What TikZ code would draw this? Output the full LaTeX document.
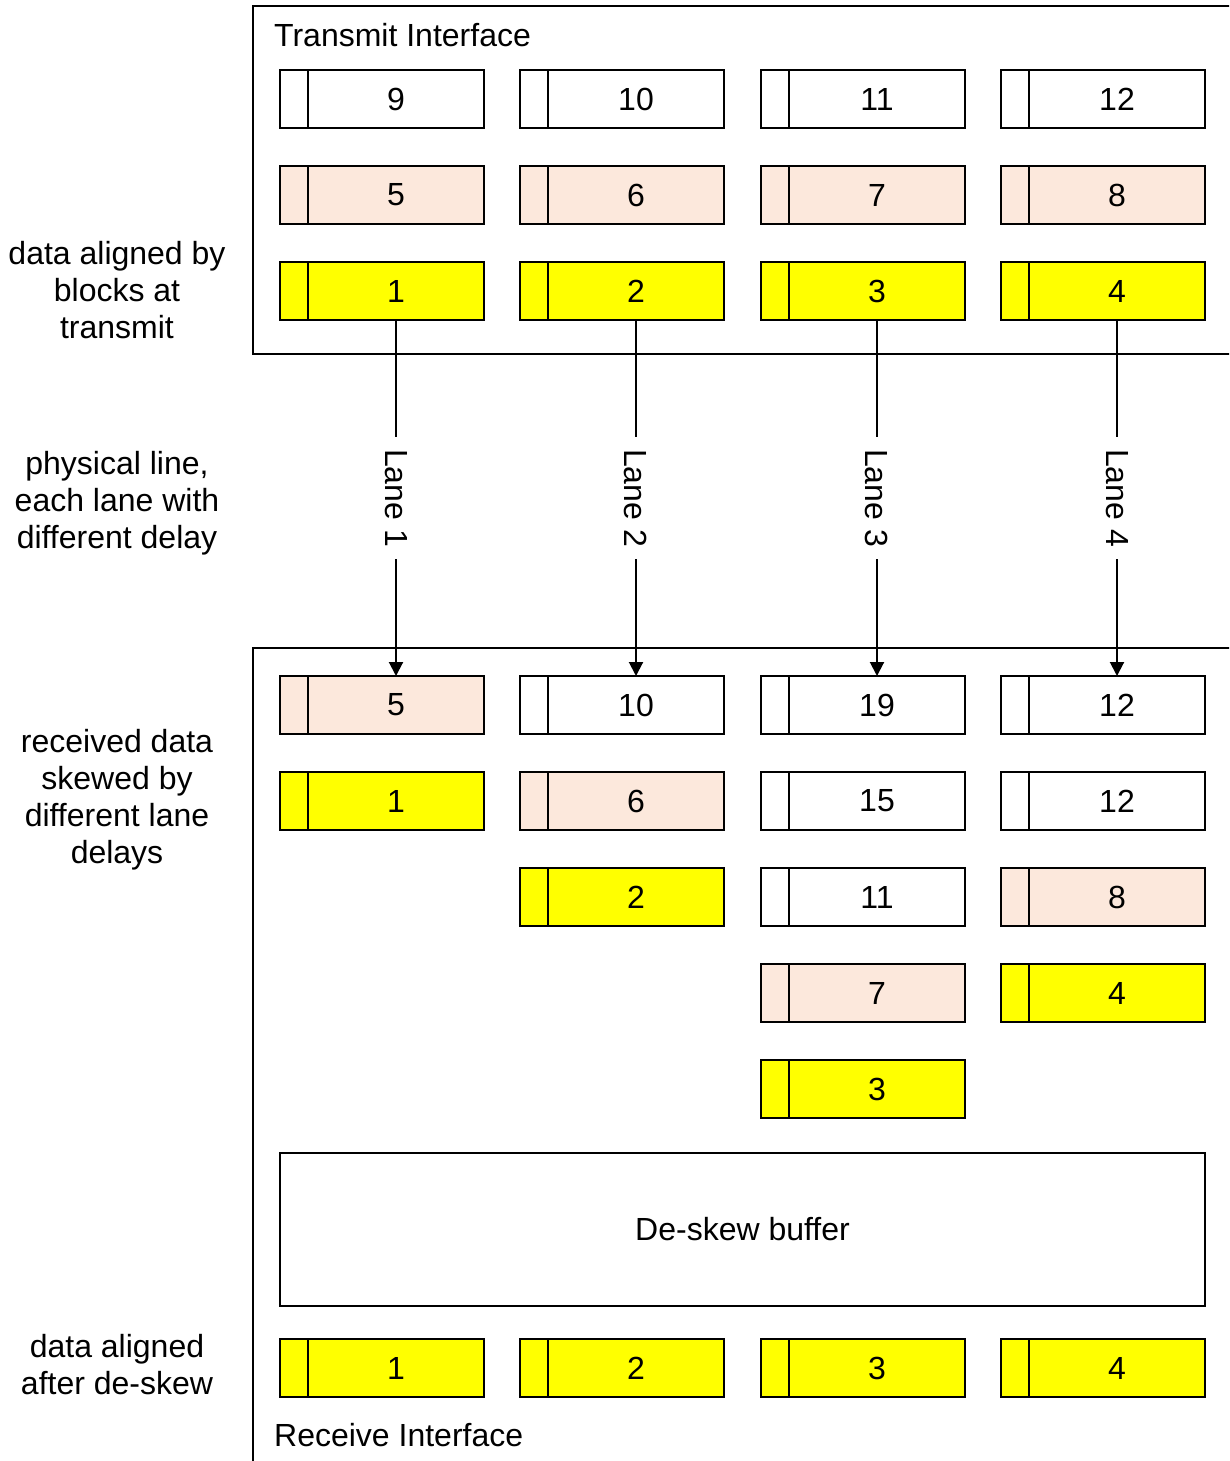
\documentclass[tikz,border=0pt]{standalone}
\usepackage{fontspec}
\setmainfont{Liberation Sans}
\usetikzlibrary{arrows.meta}
\definecolor{peach}{HTML}{FCE8DC}
\definecolor{lemon}{HTML}{FFFF00}

\tikzset{
  txt/.style={font=\fontsize{32}{37}\selectfont},
  cell/.style={txt, draw=black, line width=2pt, minimum width=176pt,
    minimum height=58pt, inner sep=0pt, outer sep=0pt},
  frame/.style={draw=black, line width=2pt},
  note/.style={txt, align=center},
  lane/.style={-{Triangle[width=14pt,length=14pt]}, line width=2pt},
  lanelabel/.style={txt, fill=white, rotate=-90, inner xsep=12pt, inner ysep=2pt}
}

% block: name, left x, centre y, fill colour, label
\newcommand\blk[5]{%
  \node[cell, fill=#4] (#1) at (#2+116,#3) {#5};
  \draw[line width=2pt, fill=#4] (#2,#3-29) rectangle (#1.south west);
}

\begin{document}
\begin{tikzpicture}[x=1pt,y=-1pt]
\useasboundingbox (0,0) rectangle (1229,1461);
\clip (0,0) rectangle (1229,1461);

% interface frames (open to the right / bottom)
\draw[frame] (1240,6) -- (253,6) -- (253,354) -- (1240,354);
\draw[frame] (1240,648) -- (253,648) -- (253,1475);
\node[txt, anchor=west, inner xsep=0pt] (txlabel) at (274,35) {Transmit Interface};
\node[txt, anchor=west, inner xsep=0pt] (rxlabel) at (274,1435) {Receive Interface};

% transmit blocks
\blk{t9}{280}{99}{white}{9}
\blk{t10}{520}{99}{white}{10}
\blk{t11}{761}{99}{white}{11}
\blk{t12}{1001}{99}{white}{12}
\blk{t5}{280}{195}{peach}{5}
\blk{t6}{520}{195}{peach}{6}
\blk{t7}{761}{195}{peach}{7}
\blk{t8}{1001}{195}{peach}{8}
\blk{t1}{280}{291}{lemon}{1}
\blk{t2}{520}{291}{lemon}{2}
\blk{t3}{761}{291}{lemon}{3}
\blk{t4}{1001}{291}{lemon}{4}

% received blocks, skewed per lane
\blk{r1a}{280}{705}{peach}{5}
\blk{r1b}{280}{801}{lemon}{1}
\blk{r2a}{520}{705}{white}{10}
\blk{r2b}{520}{801}{peach}{6}
\blk{r2c}{520}{897}{lemon}{2}
\blk{r3a}{761}{705}{white}{19}
\blk{r3b}{761}{801}{white}{15}
\blk{r3c}{761}{897}{white}{11}
\blk{r3d}{761}{993}{peach}{7}
\blk{r3e}{761}{1089}{lemon}{3}
\blk{r4a}{1001}{705}{white}{12}
\blk{r4b}{1001}{801}{white}{12}
\blk{r4c}{1001}{897}{peach}{8}
\blk{r4d}{1001}{993}{lemon}{4}

% de-skew buffer
\node[txt, draw=black, line width=2pt, minimum width=925pt, minimum height=153pt,
  inner sep=0pt] (buf) at (742.5,1229.5) {De-skew buffer};

% aligned output
\blk{o1}{280}{1368}{lemon}{1}
\blk{o2}{520}{1368}{lemon}{2}
\blk{o3}{761}{1368}{lemon}{3}
\blk{o4}{1001}{1368}{lemon}{4}

% lanes
\draw[lane] (t1.south) -- (r1a.north) node[lanelabel, pos=0.5] (l1) {Lane 1};
\draw[lane] (t2.south) -- (r2a.north) node[lanelabel, pos=0.5] (l2) {Lane 2};
\draw[lane] (t3.south) -- (r3a.north) node[lanelabel, pos=0.5] (l3) {Lane 3};
\draw[lane] (t4.south) -- (r4a.north) node[lanelabel, pos=0.5] (l4) {Lane 4};

% side notes
\node[note] (n1) at (117,290) {data aligned by\\blocks at\\transmit};
\node[note] (n2) at (117,503) {physical line,\\each lane with\\different delay};
\node[note] (n3) at (117,800) {received data\\skewed by\\different lane\\delays};
\node[note] (n4) at (117,1365) {data aligned\\after de-skew};
\end{tikzpicture}
\end{document}
